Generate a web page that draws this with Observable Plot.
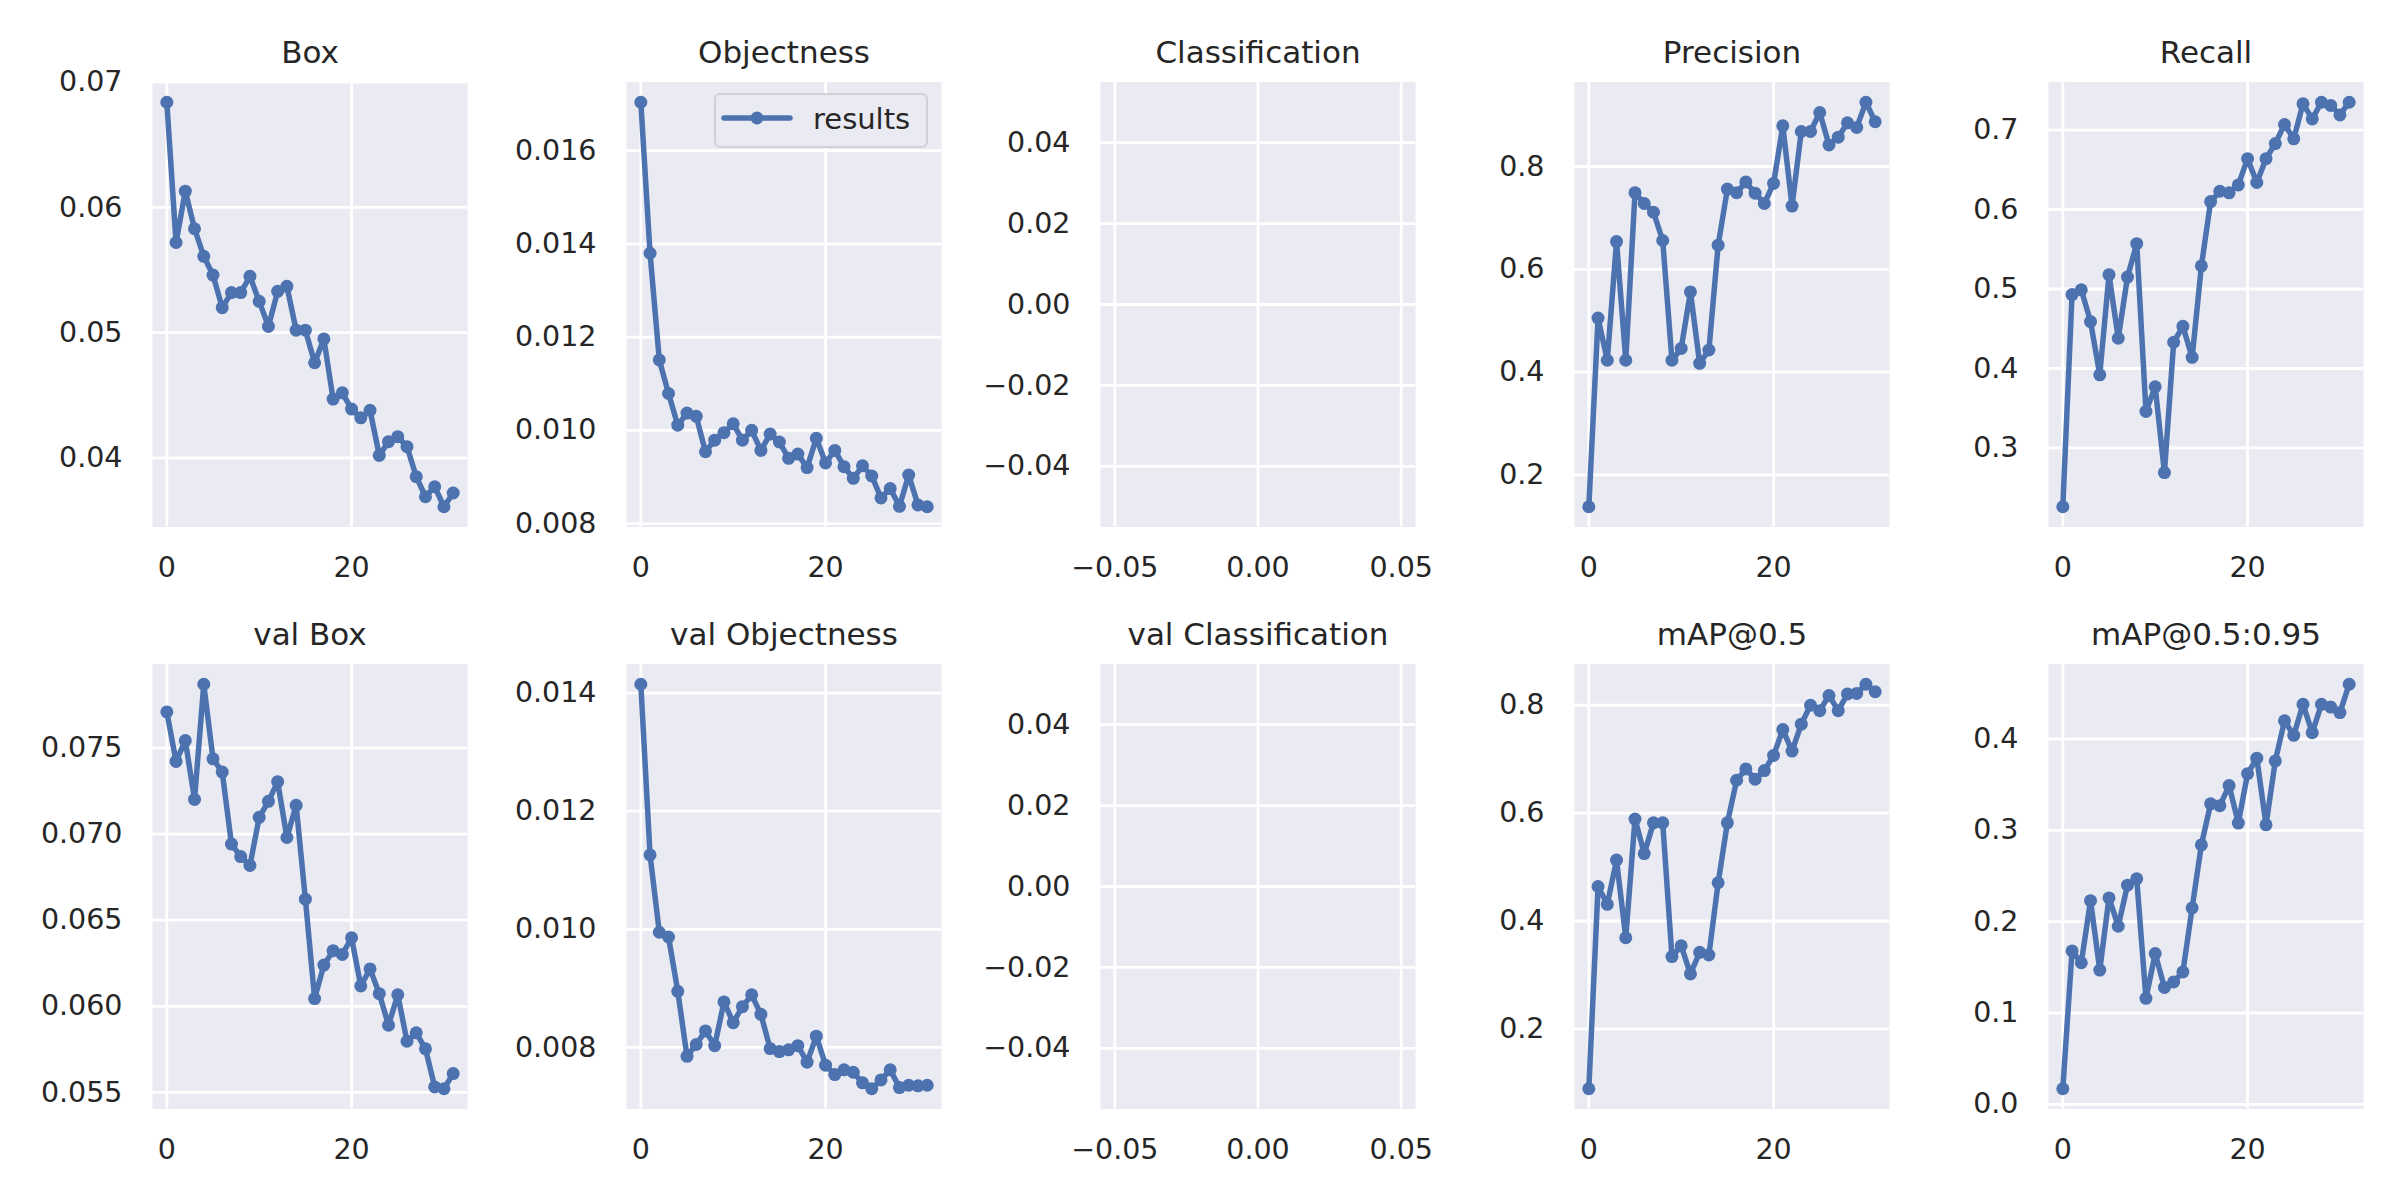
<!DOCTYPE html>
<html>
<head>
<meta charset="utf-8">
<script src="https://cdn.jsdelivr.net/npm/d3@7"></script>
<script src="https://cdn.jsdelivr.net/npm/@observablehq/plot@0.6"></script>
<style>
  body { margin: 0; background: #fff; }
  #fig { position: relative; width: 2400px; height: 1200px; background: #fff; font-family: "DejaVu Sans", sans-serif; }
  .panel { position: absolute; }
  .legend { position: absolute; box-sizing: border-box; border: 2px solid #d0d0d5; border-radius: 6px; background: #EAEAF2; }
</style>
</head>
<body>
<div id="fig"></div>
<script>
// ---- data ----
const epochs = [0,1,2,3,4,5,6,7,8,9,10,11,12,13,14,15,16,17,18,19,20,21,22,23,24,25,26,27,28,29,30,31];

const titles = ["Box","Objectness","Classification","Precision","Recall",
                "val Box","val Objectness","val Classification","mAP@0.5","mAP@0.5:0.95"];

const box = [0.0684,0.0572,0.0613,0.0583,0.0561,0.0546,0.0520,0.0532,0.0532,0.0545,
             0.0525,0.0505,0.0533,0.0537,0.0502,0.0502,0.0476,0.0495,0.0447,0.0452,
             0.0439,0.0432,0.0438,0.0402,0.0413,0.0417,0.0409,0.0385,0.0369,0.0377,
             0.0361,0.0372];
const objectness = [0.01704,0.01380,0.01151,0.01079,0.01011,0.01037,0.01030,0.00954,0.00979,0.00995,
                    0.01014,0.00979,0.01000,0.00957,0.00992,0.00975,0.00940,0.00949,0.00920,0.00983,
                    0.00930,0.00957,0.00922,0.00897,0.00924,0.00902,0.00855,0.00875,0.00837,0.00904,
                    0.00840,0.00836];
const classification = [];
const precision = [0.138,0.505,0.423,0.654,0.423,0.749,0.728,0.711,0.656,0.423,
                   0.446,0.556,0.417,0.443,0.647,0.756,0.749,0.770,0.748,0.728,
                   0.767,0.879,0.723,0.868,0.868,0.905,0.842,0.857,0.885,0.876,
                   0.925,0.887];
const recall = [0.226,0.493,0.499,0.459,0.392,0.518,0.438,0.515,0.557,0.346,
                0.377,0.269,0.433,0.453,0.414,0.529,0.610,0.623,0.621,0.631,
                0.664,0.634,0.664,0.683,0.707,0.689,0.733,0.714,0.735,0.731,
                0.719,0.735];
const valBox = [0.07709,0.07422,0.07543,0.07201,0.07870,0.07437,0.07360,0.06942,0.06869,0.06818,
                0.07097,0.07190,0.07304,0.06980,0.07167,0.06622,0.06045,0.06239,0.06323,0.06301,
                0.06398,0.06118,0.06217,0.06073,0.05890,0.06067,0.05797,0.05846,0.05753,0.05532,
                0.05521,0.05609];
const valObjectness = [0.01415,0.01126,0.00995,0.00987,0.00895,0.00785,0.00805,0.00828,0.00803,0.00877,
                       0.00842,0.00869,0.00889,0.00856,0.00798,0.00793,0.00796,0.00803,0.00775,0.00819,
                       0.00770,0.00754,0.00762,0.00758,0.00740,0.00730,0.00745,0.00762,0.00732,0.00736,
                       0.00735,0.00736];
const valClassification = [];
const map50 = [0.089,0.464,0.431,0.513,0.369,0.589,0.525,0.582,0.582,0.334,
               0.354,0.302,0.342,0.337,0.471,0.582,0.661,0.682,0.663,0.679,
               0.707,0.755,0.715,0.765,0.800,0.790,0.818,0.790,0.821,0.822,
               0.839,0.825];
const map5095 = [0.017,0.168,0.155,0.223,0.147,0.226,0.195,0.240,0.247,0.116,
                 0.165,0.128,0.134,0.145,0.215,0.284,0.329,0.327,0.349,0.308,
                 0.362,0.379,0.306,0.376,0.420,0.404,0.438,0.407,0.438,0.435,
                 0.429,0.460];

// tick values
const epochTicks = [0, 20];
const emptyXTicks = [-0.05, 0.00, 0.05];
const boxTicks = [0.04, 0.05, 0.06, 0.07];
const objTicks = [0.008, 0.010, 0.012, 0.014, 0.016];
const emptyYTicks = [-0.04, -0.02, 0.00, 0.02, 0.04];
const precTicks = [0.2, 0.4, 0.6, 0.8];
const recallTicks = [0.3, 0.4, 0.5, 0.6, 0.7];
const valBoxTicks = [0.055, 0.060, 0.065, 0.070, 0.075];
const valObjTicks = [0.008, 0.010, 0.012, 0.014];
const map50Ticks = [0.2, 0.4, 0.6, 0.8];
const map5095Ticks = [0.0, 0.1, 0.2, 0.3, 0.4];

const seriesList = [box, objectness, classification, precision, recall,
                    valBox, valObjectness, valClassification, map50, map5095];
const yTickList = [boxTicks, objTicks, emptyYTicks, precTicks, recallTicks,
                   valBoxTicks, valObjTicks, emptyYTicks, map50Ticks, map5095Ticks];
const yFormats = [".2f", ".3f", ".2f", ".1f", ".1f", ".3f", ".3f", ".2f", ".1f", ".1f"];
const legendLabel = "results";

// ---- drawing ----
const fig = document.getElementById("fig");
const BLUE = "#4C72B0", INK = "#262626";
const COLW = 474, ROWTOP = [0, 581.5];
const MT = 81.5, PH = 445, SVGH = 600;

seriesList.forEach((values, k) => {
  const col = k % 5, row = Math.floor(k / 5);
  const data = values.map((v, i) => ({epoch: epochs[i], value: v}));
  let xDomain, yDomain, xTicks, xFmt;
  if (data.length) {
    const [lo, hi] = d3.extent(values); const m = (hi - lo) * 0.05;
    yDomain = [lo - m, hi + m];
    const [x0, x1] = d3.extent(epochs); const mx = (x1 - x0) * 0.05;
    xDomain = [x0 - mx, x1 + mx];
    xTicks = epochTicks; xFmt = d3.format("d");
  } else {
    yDomain = [-0.055, 0.055]; xDomain = [-0.055, 0.055];
    xTicks = emptyXTicks; xFmt = d3.format(".2f");
  }
  const yTicks = yTickList[k];
  const chart = Plot.plot({
    width: COLW, height: SVGH,
    marginLeft: 152, marginRight: 7, marginTop: MT, marginBottom: SVGH - MT - PH,
    style: {background: "transparent", fontFamily: "DejaVu Sans, sans-serif", fontSize: "28.5px", color: INK, overflow: "visible"},
    x: {domain: xDomain, ticks: xTicks, tickFormat: xFmt, tickSize: 0, tickPadding: 30, label: null},
    y: {domain: yDomain, ticks: yTicks, tickFormat: d3.format(yFormats[k]), tickSize: 0, tickPadding: 30, label: null},
    marks: [
      Plot.frame({fill: "#EAEAF2", stroke: null}),
      Plot.gridX(xTicks, {stroke: "#ffffff", strokeOpacity: 1, strokeWidth: 2.8}),
      Plot.gridY(yTicks, {stroke: "#ffffff", strokeOpacity: 1, strokeWidth: 2.8}),
      Plot.line(data, {x: "epoch", y: "value", stroke: BLUE, strokeWidth: 5.5, strokeLinejoin: "round", strokeLinecap: "round"}),
      Plot.dot(data, {x: "epoch", y: "value", fill: BLUE, r: 6.5}),
      Plot.text([titles[k]], {text: d => d, frameAnchor: "top", lineAnchor: "bottom", dy: -19, fontSize: 31, fill: INK})
    ]
  });
  chart.classList.add("panel");
  chart.style.left = (col * COLW) + "px";
  chart.style.top = ROWTOP[row] + "px";
  fig.appendChild(chart);
});

// legend (in the Objectness panel)
const lg = document.createElement("div");
lg.className = "legend";
lg.style.left = "714px"; lg.style.top = "93px"; lg.style.width = "214px"; lg.style.height = "55px";
lg.innerHTML = `<svg width="210" height="51" style="position:absolute;left:0;top:0;overflow:visible">
  <line x1="8" y1="23" x2="74" y2="23" stroke="${BLUE}" stroke-width="5.5" stroke-linecap="round"/>
  <circle cx="41" cy="23" r="6.5" fill="${BLUE}"/>
  <text x="97" y="34" font-family="DejaVu Sans, sans-serif" font-size="29" fill="${INK}">${legendLabel}</text>
</svg>`;
fig.appendChild(lg);
</script>
</body>
</html>
